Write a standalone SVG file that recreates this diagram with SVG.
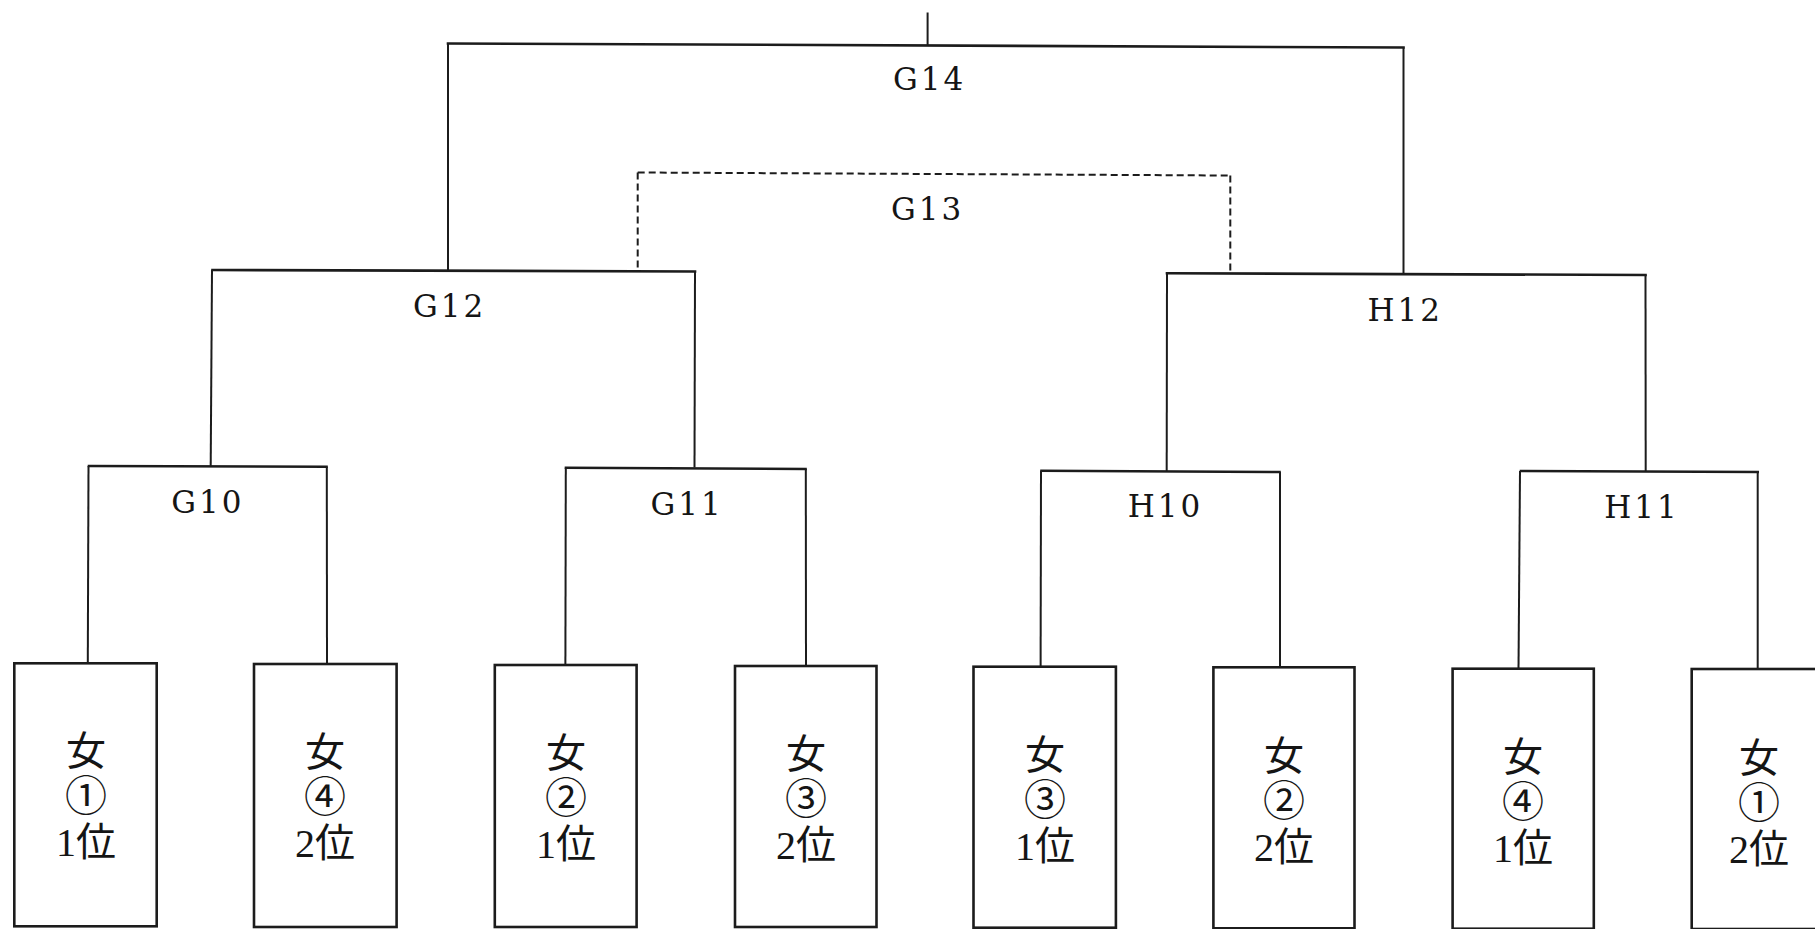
<svg xmlns="http://www.w3.org/2000/svg" width="1815" height="929" viewBox="0 0 1815 929">
<style>
.bg{fill:#ffffff}
.h{stroke:#1c1c1c;stroke-width:2.6;fill:none;stroke-linecap:square}
.v{stroke:#1c1c1c;stroke-width:2;fill:none}
.d{stroke:#1c1c1c;stroke-width:2;fill:none;stroke-dasharray:7 4}
.box{fill:#ffffff;stroke:#1c1c1c;stroke-width:2.6}
.lbl{font-family:"DejaVu Serif","Liberation Serif",serif;font-size:31px;fill:#151515;text-anchor:middle;letter-spacing:3px}
.bt{font-family:"Liberation Serif","Noto Sans CJK JP",serif;font-size:40px;fill:#151515;text-anchor:middle}
.c{font-family:"Liberation Serif","Noto Sans CJK JP",sans-serif;font-size:42px}
</style>
<rect class="bg" x="0" y="0" width="1815" height="929"/>
<g id="connectors">
  <line class="v" x1="927.6" y1="12.5" x2="927.6" y2="45"/>
  <line class="h" x1="448" y1="43.5" x2="1403.5" y2="47.5"/>
  <line class="v" x1="448" y1="43.5" x2="448" y2="270"/>
  <line class="v" x1="1403.5" y1="47.5" x2="1403.5" y2="274"/>
  <line class="d" x1="637.7" y1="172.5" x2="1230.3" y2="175.5"/>
  <line class="d" x1="637.7" y1="172.5" x2="637.7" y2="270.5"/>
  <line class="d" x1="1230.3" y1="175.5" x2="1230.3" y2="273.5"/>
  <line class="h" x1="212.5" y1="270" x2="695" y2="271.5"/>
  <line class="v" x1="212" y1="270" x2="210.7" y2="466"/>
  <line class="v" x1="695" y1="271.5" x2="694.5" y2="467.5"/>
  <line class="h" x1="1167" y1="273.3" x2="1645.5" y2="275"/>
  <line class="v" x1="1167" y1="273.3" x2="1166.7" y2="471"/>
  <line class="v" x1="1645.5" y1="275" x2="1645.7" y2="471.5"/>
  <line class="h" x1="89" y1="466" x2="326.5" y2="466.7"/>
  <line class="v" x1="88.5" y1="466" x2="87.8" y2="663"/>
  <line class="v" x1="326.8" y1="466.7" x2="327" y2="664"/>
  <line class="h" x1="566" y1="467.7" x2="805.5" y2="469"/>
  <line class="v" x1="565.8" y1="467.7" x2="565.4" y2="665"/>
  <line class="v" x1="805.8" y1="469" x2="806" y2="666"/>
  <line class="h" x1="1041.5" y1="470.7" x2="1279.5" y2="472"/>
  <line class="v" x1="1041" y1="470.7" x2="1040.6" y2="666.7"/>
  <line class="v" x1="1280" y1="472" x2="1280" y2="667.3"/>
  <line class="h" x1="1521" y1="471" x2="1757.7" y2="472"/>
  <line class="v" x1="1520" y1="471" x2="1518.5" y2="668.7"/>
  <line class="v" x1="1757.7" y1="472" x2="1757.7" y2="669"/>
</g>
<g id="G14"><text class="lbl" x="929.5" y="90">G14</text></g>
<g id="G13"><text class="lbl" x="927.6" y="220">G13</text></g>
<g id="G12"><text class="lbl" x="449.5" y="317">G12</text></g>
<g id="H12"><text class="lbl" x="1405.3" y="321">H12</text></g>
<g id="G10"><text class="lbl" x="207.8" y="513">G10</text></g>
<g id="G11"><text class="lbl" x="687" y="515">G11</text></g>
<g id="H10"><text class="lbl" x="1165.5" y="517">H10</text></g>
<g id="H11"><text class="lbl" x="1642" y="518">H11</text></g>
<g id="box1">
  <rect class="box" x="14.3" y="663.3" width="142.4" height="263"/>
  <text class="bt" x="86"><tspan x="86" y="765">女</tspan><tspan class="c" x="86" y="811">①</tspan><tspan x="86" y="856">1位</tspan></text>
</g>
<g id="box2">
  <rect class="box" x="254" y="664" width="142.6" height="263"/>
  <text class="bt" x="325"><tspan x="325" y="766">女</tspan><tspan class="c" x="325" y="812">④</tspan><tspan x="325" y="857">2位</tspan></text>
</g>
<g id="box3">
  <rect class="box" x="494.8" y="665" width="141.8" height="262"/>
  <text class="bt" x="566"><tspan x="566" y="767">女</tspan><tspan class="c" x="566" y="813">②</tspan><tspan x="566" y="858">1位</tspan></text>
</g>
<g id="box4">
  <rect class="box" x="735" y="666" width="141.5" height="261"/>
  <text class="bt" x="806"><tspan x="806" y="768">女</tspan><tspan class="c" x="806" y="814">③</tspan><tspan x="806" y="859">2位</tspan></text>
</g>
<g id="box5">
  <rect class="box" x="973.5" y="666.7" width="142.4" height="261"/>
  <text class="bt" x="1045"><tspan x="1045" y="769">女</tspan><tspan class="c" x="1045" y="815">③</tspan><tspan x="1045" y="860">1位</tspan></text>
</g>
<g id="box6">
  <rect class="box" x="1213.4" y="667.3" width="141.1" height="261"/>
  <text class="bt" x="1284"><tspan x="1284" y="770">女</tspan><tspan class="c" x="1284" y="816">②</tspan><tspan x="1284" y="861">2位</tspan></text>
</g>
<g id="box7">
  <rect class="box" x="1452.6" y="668.7" width="141.2" height="260"/>
  <text class="bt" x="1523"><tspan x="1523" y="771">女</tspan><tspan class="c" x="1523" y="817">④</tspan><tspan x="1523" y="862">1位</tspan></text>
</g>
<g id="box8">
  <rect class="box" x="1691.7" y="669" width="142" height="260"/>
  <text class="bt" x="1759"><tspan x="1759" y="772">女</tspan><tspan class="c" x="1759" y="818">①</tspan><tspan x="1759" y="863">2位</tspan></text>
</g>
</svg>
